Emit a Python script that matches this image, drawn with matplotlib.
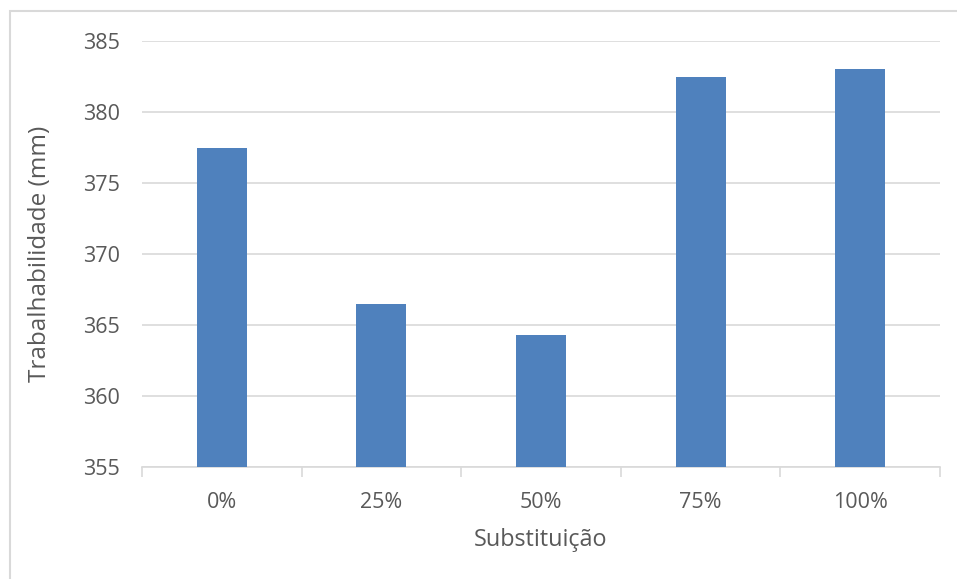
import matplotlib
matplotlib.use("Agg")
import matplotlib.pyplot as plt
from matplotlib.patches import Rectangle

categorias = ["0%", "25%", "50%", "75%", "100%"]
trabalhabilidade = [377.5, 366.5, 364.3, 382.5, 383.0]
yticks = [355, 360, 365, 370, 375, 380, 385]

plt.rcParams['font.family'] = ['Open Sans', 'DejaVu Sans']
cinza = '#d9d9d9'
texto = '#595959'

fig = plt.figure(figsize=(9.57, 5.79), dpi=100)
ax = fig.add_axes([142/957, 1-467/579, (940-142)/957, (467-41)/579])

x = range(len(categorias))
ax.bar(x, [v - 355 for v in trabalhabilidade], bottom=355, width=0.313,
       color='#4f81bd', zorder=3)

ax.set_xlim(-0.5, len(categorias) - 0.5)
ax.set_ylim(355, 385)
ax.set_yticks(yticks)
ax.set_yticklabels([str(t) for t in yticks])
ax.set_xticks(list(x))
ax.set_xticklabels(categorias)
ax.set_xticks([i - 0.5 for i in range(len(categorias) + 1)], minor=True)

ax.grid(axis='y', color=cinza, linewidth=1.2, zorder=0)
for s in ['top', 'right', 'left']:
    ax.spines[s].set_visible(False)
ax.spines['bottom'].set_color(cinza)
ax.spines['bottom'].set_linewidth(1.2)

ax.tick_params(axis='y', length=0, pad=16, labelsize=15.5, labelcolor=texto)
ax.tick_params(axis='x', which='major', length=0, pad=18, labelsize=15.5, labelcolor=texto)
ax.tick_params(axis='x', which='minor', length=7, width=1.2, color=cinza)

ax.set_xlabel('Substituição', fontsize=16.8, color=texto, labelpad=11)
ax.set_ylabel('Trabalhabilidade (mm)', fontsize=17.5, color=texto, labelpad=22)

# chart border (only left and top visible in the crop)
fig.patches.append(Rectangle((10/957, -0.1), 1.2, 1.1 - 11/579,
                             transform=fig.transFigure, fill=False,
                             edgecolor=cinza, linewidth=1.5))

fig.savefig('out.png', dpi=100)
